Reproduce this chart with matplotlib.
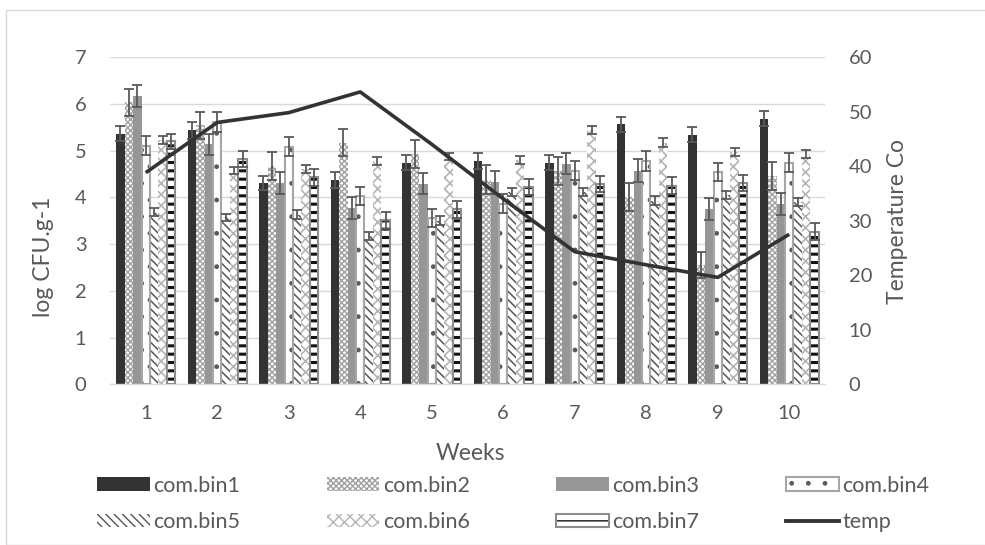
import matplotlib
matplotlib.use("Agg")
import matplotlib.pyplot as plt
import numpy as np
from matplotlib.patches import Rectangle, Patch
from matplotlib.lines import Line2D
from matplotlib.legend_handler import HandlerTuple

plt.rcParams['font.family'] = ['Lato', 'DejaVu Sans']
plt.rcParams['hatch.linewidth'] = 1.0

weeks = ['1', '2', '3', '4', '5', '6', '7', '8', '9', '10']
series_names = ['com.bin1', 'com.bin2', 'com.bin3', 'com.bin4',
                'com.bin5', 'com.bin6', 'com.bin7']

bin1 = [5.36, 5.43, 4.31, 4.36, 4.74, 4.77, 4.74, 5.56, 5.34, 5.68]
bin2 = [6.03, 5.54, 4.67, 5.17, 4.93, 4.38, 4.56, 4.00, 2.56, 4.46]
bin3 = [6.17, 5.13, 4.31, 3.77, 4.29, 4.32, 4.72, 4.57, 3.75, 3.86]
bin4 = [5.10, 5.61, 5.08, 4.02, 3.55, 3.86, 4.57, 4.78, 4.54, 4.74]
bin5 = [3.68, 3.57, 3.63, 3.17, 3.50, 4.11, 4.11, 3.93, 4.05, 3.90]
bin6 = [5.22, 4.57, 4.60, 4.78, 4.87, 4.80, 5.44, 5.17, 4.97, 4.93]
bin7 = [5.20, 4.82, 4.43, 3.51, 3.74, 4.22, 4.28, 4.25, 4.30, 3.26]

err1 = [0.16, 0.18, 0.15, 0.17, 0.16, 0.17, 0.16, 0.16, 0.16, 0.16]
err2 = [0.29, 0.29, 0.29, 0.29, 0.30, 0.30, 0.30, 0.30, 0.28, 0.30]
err3 = [0.23, 0.23, 0.23, 0.23, 0.23, 0.24, 0.23, 0.25, 0.23, 0.23]
err4 = [0.20, 0.22, 0.20, 0.19, 0.19, 0.20, 0.20, 0.21, 0.20, 0.20]
err5 = [0.09, 0.08, 0.09, 0.09, 0.09, 0.09, 0.09, 0.09, 0.09, 0.09]
err6 = [0.08, 0.08, 0.08, 0.08, 0.08, 0.08, 0.08, 0.09, 0.08, 0.09]
err7 = [0.16, 0.18, 0.18, 0.18, 0.18, 0.18, 0.17, 0.18, 0.17, 0.18]

temp = [38.8, 48.0, 49.8, 53.6, 44.0, 34.0, 24.3, 21.9, 19.6, 27.5]

values = [bin1, bin2, bin3, bin4, bin5, bin6, bin7]
errors = [err1, err2, err3, err4, err5, err6, err7]

TXT = '#595959'
W, H = 985, 545
fig = plt.figure(figsize=(W / 100, H / 100), dpi=100)

# outer chart border (only left/top visible in reference)
fig.patches.append(Rectangle((6 / W, 0), 1.0, 1 - 10 / H, transform=fig.transFigure,
                             fill=False, edgecolor='#d9d9d9', lw=1.0))

x0, x1 = 110, 825
yb, yt = 384.3, 57
ax = fig.add_axes([x0 / W, 1 - yb / H, (x1 - x0) / W, (yb - yt) / H])
ax2 = ax.twinx()
ax2.patch.set_visible(False)

x = np.arange(1, len(weeks) + 1)
bw = 0.118
styles = [
    dict(facecolor='#333333', edgecolor='#333333', hatch=None, hlw=1.0),
    dict(facecolor='white', edgecolor='#a0a0a0', hatch='xxxxxx', hlw=1.0),
    dict(facecolor='#969696', edgecolor='#969696', hatch=None, hlw=1.0),
    dict(facecolor='white', edgecolor='#595959', hatch='.', hlw=1.0),
    dict(facecolor='white', edgecolor='#555555', hatch='\\\\\\\\', hlw=1.1),
    dict(facecolor='white', edgecolor='#b4b4b4', hatch='xxx', hlw=1.2),
    dict(facecolor='white', edgecolor='#111111', hatch='--', hlw=2.2),
]
outline_colors = [None, None, None, '#a6a6a6', None, None, '#8c8c8c']


def set_hlw(artist, lw):
    if hasattr(artist, 'set_hatch_linewidth'):
        artist.set_hatch_linewidth(lw)


handles = []
for i, (vals, errs, st) in enumerate(zip(values, errors, styles)):
    pos = x + (i - 3) * bw
    with plt.rc_context({'hatch.linewidth': st['hlw']}):
        bars = ax.bar(pos, vals, width=bw, facecolor=st['facecolor'],
                      edgecolor=st['edgecolor'], hatch=st['hatch'], linewidth=0,
                      zorder=2)
        for b in bars:
            set_hlw(b, st['hlw'])
        p = Patch(facecolor=st['facecolor'], edgecolor=st['edgecolor'],
                  hatch=st['hatch'], linewidth=0)
        set_hlw(p, st['hlw'])
    oc = outline_colors[i]
    if oc is not None:
        ax.bar(pos, vals, width=bw, fill=False, edgecolor=oc, linewidth=1.5, zorder=3)
    ax.errorbar(pos, vals, yerr=errs, fmt='none', ecolor='#595959', elinewidth=1.3,
                capsize=3.6, capthick=1.3, zorder=4)
    if oc is not None:
        po = Patch(fill=False, edgecolor=oc, linewidth=1.5)
        handles.append((p, po))
    else:
        handles.append(p)

FS_TICK = 14.5
FS_TITLE = 16.5
FS_LEG = 15.5

ax.set_xlim(0.5, len(weeks) + 0.5)
ax.set_ylim(0, 7)
ax.set_yticks(range(0, 8))
ax.set_xticks(x)
ax.set_xticklabels(weeks)
ax.grid(axis='y', color='#d9d9d9', lw=1.0, zorder=0)
ax.set_axisbelow(True)
for s in ['top', 'right', 'left']:
    ax.spines[s].set_visible(False)
ax.spines['bottom'].set_color('#d9d9d9')
ax.spines['bottom'].set_linewidth(1.0)
ax.tick_params(axis='both', length=0, labelsize=FS_TICK, colors=TXT)
ax.tick_params(axis='x', pad=15)
ax.tick_params(axis='y', pad=17)
ax.set_ylabel('log CFU.g-1', fontsize=FS_TITLE, color=TXT)
ax.yaxis.set_label_coords((44 - x0) / (x1 - x0), (yb - 257) / (yb - yt))
ax.yaxis.label.set_verticalalignment('center')
ax.set_xlabel('Weeks', fontsize=FS_TITLE, color=TXT)
ax.xaxis.set_label_coords((470 - x0) / (x1 - x0), (yb - 453) / (yb - yt))
ax.xaxis.label.set_verticalalignment('center')

ax2.plot(x, temp, color='#333333', lw=2.6, zorder=5, solid_capstyle='butt')
ax2.set_ylim(0, 60)
ax2.set_yticks(range(0, 61, 10))
for s in ['top', 'right', 'left', 'bottom']:
    ax2.spines[s].set_visible(False)
ax2.tick_params(axis='y', length=0, labelsize=FS_TICK, colors=TXT, pad=17)
ax2.set_ylabel('Temperature Co', fontsize=FS_TITLE, color=TXT)
ax2.yaxis.set_label_coords((897 - x0) / (x1 - x0), (yb - 222) / (yb - yt))
ax2.yaxis.label.set_verticalalignment('center')

line_handle = Line2D([], [], color='#333333', lw=2.8)
all_handles = handles + [line_handle]
labels = series_names + ['temp']
# matplotlib fills legend columns first; reorder so rows read bin1..bin4, bin5..temp
order = [0, 4, 1, 5, 2, 6, 3, 7]
leg = fig.legend([all_handles[k] for k in order], [labels[k] for k in order],
                 loc='center', bbox_to_anchor=(513 / W, 1 - 504 / H), ncol=4,
                 frameon=False, fontsize=FS_LEG, handlelength=2.45, handleheight=0.62,
                 handletextpad=0.15, columnspacing=4.03, labelspacing=0.75,
                 handler_map={tuple: HandlerTuple(ndivide=1, pad=0)})
for t in leg.get_texts():
    t.set_color(TXT)

fig.savefig('out.png', dpi=100)
